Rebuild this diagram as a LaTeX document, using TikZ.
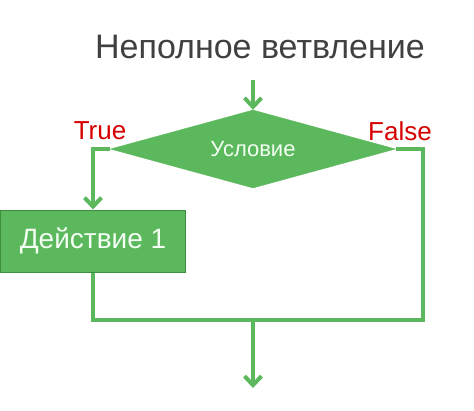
\documentclass[tikz,border=0pt]{standalone}
\usepackage{fontspec}
\setmainfont{Liberation Sans}
\usetikzlibrary{shapes.geometric,arrows.meta}
\definecolor{vert}{RGB}{92,184,92}
\definecolor{vertfonce}{RGB}{62,140,62}
\definecolor{rouge}{RGB}{214,0,0}
\definecolor{gris}{RGB}{64,64,64}
\begin{document}
\begin{tikzpicture}[x={(1bp,0bp)}, y={(0bp,-1bp)}]
%styles des noeuds
\tikzset{textLine/.style={rectangle, inner sep=0pt}}
\tikzset{cond/.style={diamond, fill=vert, draw=vert, inner sep=0pt, minimum width=285bp, minimum height=78bp, aspect=3.65, text=green!5, font=\fontsize{22bp}{24bp}\selectfont}}
\tikzset{action/.style={rectangle, fill=vert, draw=vertfonce, line width=1bp, minimum width=184bp, minimum height=62bp, inner sep=0pt, text=green!5, font=\fontsize{28bp}{30bp}\selectfont}}
\tikzset{label/.style={textLine, text=rouge, font=\fontsize{26bp}{28bp}\selectfont}}
%vecteur
\tikzset{flux/.style={draw=vert, line width=4bp}}
\tikzset{fleche/.style={flux, -{Straight Barb[length=9bp, width=17bp, line width=4bp]}}}
\useasboundingbox (0,0) rectangle (474,410);
%titre
\node[textLine, text=gris, font=\fontsize{34bp}{38bp}\selectfont] (titre) at (260,47) {Неполное ветвление};
%figure
\coordinate (entree) at (253,80);
\node[cond] (condition) at (253,149) {Условие};
\node[action] (action1) at (93,241) {Действие 1};
\coordinate (gauche) at (93,149);
\coordinate (droite) at (423,149);
\coordinate (bas) at (93,320);
\coordinate (basdroite) at (423,320);
\coordinate (jonction) at (253,320);
\coordinate (sortie) at (253,388);
%etiquettes
\node[label] (vrai) at (100,131) {True};
\node[label] (faux) at (400,131) {False};
% entree
\draw[fleche] (entree) -- (condition.north);
% branche True
\draw[fleche] (condition.west) -- (gauche) -- (action1.north);
\draw[flux] (action1.south) -- (bas) -- (basdroite) -- (droite) -- (condition.east);
% sortie
\draw[fleche] (jonction) -- (sortie);
\end{tikzpicture}
\end{document}
